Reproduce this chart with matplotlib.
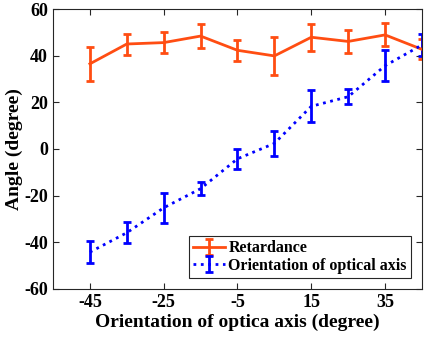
import numpy as np
import matplotlib.pyplot as plt

plt.rcParams['font.family'] = ['Liberation Serif']
plt.rcParams['font.weight'] = 'bold'
plt.rcParams['axes.unicode_minus'] = False

# data
x = [-45, -35, -25, -15, -5, 5, 15, 25, 35, 45]
ret = [36.5, 45.0, 45.6, 48.4, 42.3, 39.9, 47.9, 46.1, 48.9, 42.7]
ret_err = [7.3, 4.5, 4.5, 5.0, 4.5, 8.0, 5.8, 4.8, 4.9, 4.3]
ori = [-44.2, -35.9, -25.2, -17.0, -4.2, 2.4, 18.3, 22.4, 35.7, 44.6]
ori_err = [4.7, 4.6, 6.4, 2.7, 4.3, 5.2, 6.9, 3.2, 6.6, 4.7]

xticks = [-45, -25, -5, 15, 35]
yticks = [-60, -40, -20, 0, 20, 40, 60]

fig = plt.figure(figsize=(4.29, 3.41), dpi=100)
ax = fig.add_axes([0.1235, 0.1525, 0.8602, 0.8211])

ax.errorbar(x, ret, yerr=ret_err, color='#FF4D12', linewidth=2,
            elinewidth=2, capsize=3, capthick=2, label='Retardance')
ax.errorbar(x, ori, yerr=ori_err, color='#0000FF', linewidth=2, linestyle=':',
            elinewidth=2, capsize=3, capthick=2, label='Orientation of optical axis')

ax.set_xlim(-55, 45)
ax.set_ylim(-60, 60)
ax.set_xticks(xticks)
ax.set_yticks(yticks)
ax.tick_params(direction='in', top=True, right=True, labelsize=13,
               color='#262626', length=4)
for s in ax.spines.values():
    s.set_color('#262626')
    s.set_linewidth(0.8)

ax.set_xlabel('Orientation of optica axis (degree)', fontsize=14, fontweight='bold', labelpad=2)
ax.set_ylabel('Angle (degree)', fontsize=14, fontweight='bold', labelpad=1)

leg = ax.legend(loc='lower right', fontsize=11.5, fancybox=False, framealpha=1,
                edgecolor='#262626', borderpad=0.25, labelspacing=0.1,
                handlelength=2.0, handletextpad=0.2, borderaxespad=0.7)
leg.get_frame().set_linewidth(0.8)

fig.savefig('out.png', dpi=100)
